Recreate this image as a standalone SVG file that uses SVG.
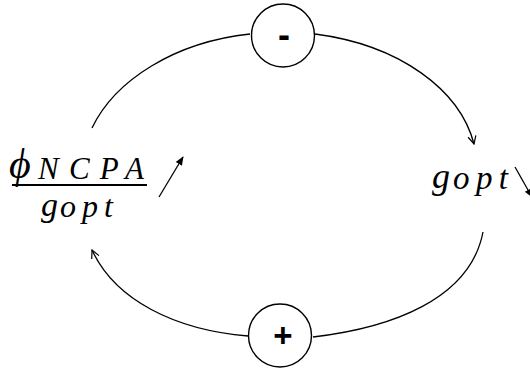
<svg xmlns="http://www.w3.org/2000/svg" width="530" height="369" viewBox="0 0 530 369">
<defs>
<marker id="arr" viewBox="0 0 10 10" refX="9" refY="5" markerWidth="10" markerHeight="10" markerUnits="userSpaceOnUse" orient="auto">
<path d="M1,1 L9,5 L1,9" fill="none" stroke="#000" stroke-width="1.2"/>
</marker>
<marker id="arrs" viewBox="0 0 10 10" refX="9" refY="5" markerWidth="9" markerHeight="9" markerUnits="userSpaceOnUse" orient="auto">
<path d="M0,1 L10,5 L0,9 Z" fill="#000"/>
</marker>
</defs>
<style>
.m{font-family:"Liberation Serif","DejaVu Serif",serif;font-style:italic;fill:#000}
.s{font-family:"Liberation Sans",Arial,sans-serif;font-weight:bold;fill:#000;text-anchor:middle}
.c{fill:#fff;stroke:#000;stroke-width:1.4}
.e{fill:none;stroke:#000;stroke-width:1.3}
</style>
<g id="connectors">
<path class="e" d="M92,128 C115,80 175,42 250,34"/>
<path class="e" d="M315,34 C400,45 460,90 474,144" marker-end="url(#arr)"/>
<path class="e" d="M313,337 C390,328 470,300 483,232"/>
<path class="e" d="M248,336 C175,330 115,300 92,250" marker-end="url(#arr)"/>
<path class="e" d="M159,197 L183,157" marker-end="url(#arrs)"/>
<path class="e" d="M515,167 L532,197" marker-end="url(#arrs)"/>
</g>
<g id="minus">
<circle class="c" cx="283" cy="35.5" r="31.5"/>
<text class="s" x="284" y="47" font-size="36">-</text>
</g>
<g id="plus">
<circle class="c" cx="280" cy="335.5" r="31.5"/>
<text class="s" x="283" y="347" font-size="33">+</text>
</g>
<g id="left">
<text class="m" x="9" y="178" font-size="42">ϕ</text>
<text class="m" x="38" y="179" font-size="31" textLength="106" lengthAdjust="spacing">NCPA</text>
<line x1="12" y1="185" x2="147" y2="185" stroke="#000" stroke-width="2.2"/>
<text class="m" x="41" y="216" font-size="34">g</text>
<text class="m" x="60" y="217" font-size="32" textLength="53" lengthAdjust="spacing">opt</text>
</g>
<g id="right">
<text class="m" x="432" y="188" font-size="36">g</text>
<text class="m" x="453" y="189" font-size="33" textLength="55" lengthAdjust="spacing">opt</text>
</g>
</svg>
